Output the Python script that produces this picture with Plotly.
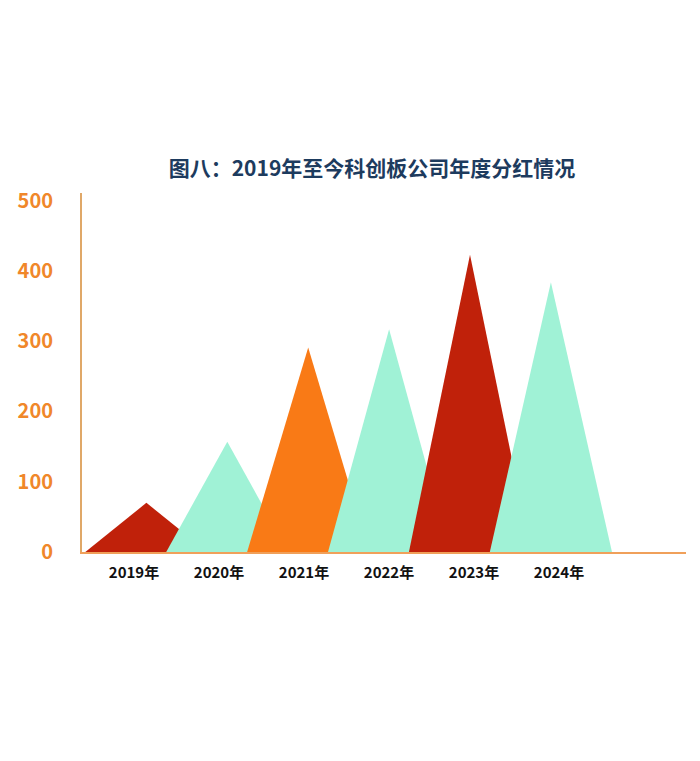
import plotly.graph_objects as go

years = ['2019年', '2020年', '2021年', '2022年', '2023年', '2024年']
dividends = [70, 157, 291, 317, 423, 384]
colors = ['#C0210A', '#A0F2D6', '#F97A16', '#A0F2D6', '#C0210A', '#A0F2D6']
y_ticks = [0, 100, 200, 300, 400, 500]

half_w = 0.755  # half of triangle base, in category units

fig = go.Figure()
for i, (val, col) in enumerate(zip(dividends, colors)):
    fig.add_trace(go.Scatter(
        x=[i - half_w, i, i + half_w, i - half_w],
        y=[0, val, 0, 0],
        mode='lines',
        fill='toself',
        fillcolor=col,
        line=dict(width=0, color=col),
        hoverinfo='skip'))

# the year labels sit on their own (slightly wider spaced) overlay axis
fig.add_trace(go.Scatter(x=list(range(len(years))), y=[0] * len(years),
                         xaxis='x2', mode='markers', marker=dict(opacity=0),
                         hoverinfo='skip'))

fig.update_layout(
    width=700, height=761,
    paper_bgcolor='white', plot_bgcolor='white',
    showlegend=False,
    margin=dict(l=74, r=22, t=185, b=217),
    font=dict(family='Noto Sans CJK SC'),
    title=dict(text='<b>图八：2019年至今科创板公司年度分红情况</b>',
               x=0.52, xanchor='center', y=0.789, yanchor='middle',
               font=dict(size=21, color='#1D3B5E')),
    xaxis=dict(range=[-0.796, 6.67], showticklabels=False, automargin=False,
               showgrid=False, zeroline=False,
               showline=True, linecolor='#F0A05A', linewidth=2, ticks=''),
    xaxis2=dict(range=[-0.612, 6.494], overlaying='x', side='bottom', anchor='y',
                tickmode='array', tickvals=list(range(len(years))),
                ticktext=['<b>%s</b>' % y for y in years],
                tickfont=dict(size=15, color='#111111'), automargin=False,
                showgrid=False, zeroline=False, showline=False,
                ticks='', ticklabelstandoff=10),
    yaxis=dict(range=[0, 511], automargin=False,
               tickmode='array', tickvals=y_ticks,
               ticktext=['<b>%d</b>' % v for v in y_ticks],
               tickfont=dict(size=20, color='#F0872A'),
               showgrid=False, zeroline=False,
               showline=True, linecolor='#E0A868', linewidth=2,
               ticks='', ticklabelstandoff=23),
)

fig.write_html('out.html')
